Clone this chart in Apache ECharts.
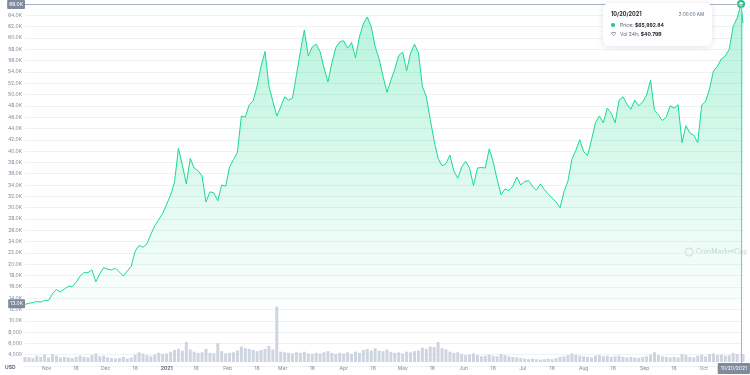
<!DOCTYPE html>
<html lang="en">
<head>
<meta charset="UTF-8">
<title>BTC price</title>
<script src="https://cdn.jsdelivr.net/npm/echarts@6/dist/echarts.min.js"></script>
<style>
html,body{margin:0;padding:0;background:#fff}
#chartBox{width:750px;height:375px}
</style>
</head>
<body>
<div id="chartBox"></div>
<script>
// one category per day, 2020-10-21 .. 2021-10-21
const startYear = 2020, startMonth = 9, startDay = 21;
const dayCount = 366;
const monthNames = ['Jan','Feb','Mar','Apr','May','Jun','Jul','Aug','Sep','Oct','Nov','Dec'];

// price, sampled every 2 days (last value is the final day)
const price = [
  12900,13100,13200,13400,13300,13600,13600,14800,15500,15100,
  15600,16100,16000,16800,17900,18500,18500,19000,16900,18300,
  19400,19100,19000,19300,18600,17900,18800,19600,22300,23300,
  23000,23600,25300,26800,27900,29000,30600,32200,34500,40500,
  37500,34200,38700,37000,36500,35600,31000,32800,32600,31200,
  34000,33800,37200,38500,39800,46200,46000,48200,48900,51500,
  55000,57600,51500,48800,46200,47800,49600,49000,49400,53500,
  57600,61400,56800,58400,58900,57600,54700,52200,55600,58300,
  59300,59500,58200,59200,56500,60200,62500,63700,62000,58500,
  56300,53200,50400,52500,54500,56900,57500,54200,57300,58900,
  57400,51500,49600,45600,41800,38700,37400,37800,39300,36500,
  35200,37200,38200,37000,33900,37000,37100,37000,40400,38100,
  35000,32300,33300,33000,33800,35400,34000,34600,34800,33800,
  33100,34200,33200,32400,31700,31000,30000,32800,34700,38500,
  40100,42000,39900,39200,42000,45000,46200,45000,47600,46700,
  45000,49000,49600,48300,47400,49000,48000,48700,49900,52500,
  47200,46400,45400,46000,48000,47600,48200,41500,44500,43200,
  42800,41500,48100,48800,51000,54200,55000,56300,56800,58000,
  62000,63500,65992.84,62600
];

// volume bars, same sampling, read against the left scale
const volume = [
  3900,3800,3700,4100,3900,4300,3800,4400,4100,3800,
  3900,3800,3700,3900,4100,3900,3800,4200,4500,4000,
  4100,3800,3700,3600,3700,3900,3600,3800,4300,4700,
  4500,4200,4000,4300,4600,4400,4500,4800,5100,5300,
  5000,6500,5200,4800,4600,4700,5300,4600,4500,6300,
  4900,4500,4600,4700,5000,5700,5400,5300,5100,4900,
  5100,5300,5800,5200,12700,4800,4700,4600,4500,4700,
  4600,4800,4500,4400,4600,4500,4700,4900,4600,4400,
  4600,4500,4700,4400,4800,4600,5100,5300,5000,5400,
  5000,4900,5200,4800,4600,4700,4500,4800,4700,4900,
  5000,5500,5300,5700,5600,6500,5400,5200,4800,4600,
  4700,4400,4200,4300,4500,4200,4000,4100,4300,4100,
  4000,4400,4200,4000,3900,3800,3700,3600,3500,3600,
  3500,3400,3500,3600,3500,3700,3900,4000,4200,4500,
  4300,4100,4000,3900,3800,4100,4200,4000,4100,3900,
  4000,4100,3900,3800,3900,3800,3700,3900,4000,4300,
  4700,4200,4000,3900,3800,3900,3800,4400,4200,3900,
  3800,4100,4300,4000,4400,4500,4200,4300,4100,4200,
  4600,4400,4500,4400
];

const hoverIndex = 182;          // 10/20/2021 sample
const hoverTime = '2:00:00 AM';
const hoverVolText = '$40.79B';
const markedLow = 13000;         // highlighted label on the left

const days = [];
for (let d = 0; d < dayCount; d++) {
    let t = new Date(Date.UTC(startYear, startMonth, startDay + d));
    days.push(t.toISOString().slice(0, 10));
}
const sampleDay = i => days[Math.min(i * 2, dayCount - 1)];
const priceData = price.map((v, i) => [sampleDay(i), v]);
const volumeData = volume.map((v, i) => [sampleDay(i), v]);

function usDate(val) {
    let p = val.split('-');
    return p[1] + '/' + p[2] + '/' + p[0];
}
function kLabel(v) {
    return (v / 1000).toFixed(1) + 'K';
}
// left scale: "12.0K" style above 10k, "8,000" style below
function scaleLabel(v) {
    if (v < 4000) return '';
    return v >= 10000 ? kLabel(v) : v.toLocaleString('en-US');
}

const labelColor = '#808a9d';
const boxColor = '#808a9d';
const fontFam = "Inter, 'Noto Sans', sans-serif";
const pointerLine = {color: '#a6b0c3', width: 1, type: 'solid'};

let chartObj = echarts.init(document.getElementById('chartBox'));
let option = {
    animation: false,
    textStyle: {fontFamily: fontFam},
    grid: [
        {left: 25, right: 7, top: 4, height: 362},
        {left: 25, right: 7, top: 306, height: 56}
    ],
    axisPointer: {link: [{xAxisIndex: 'all'}]},
    tooltip: {
        trigger: 'axis',
        alwaysShowContent: true,
        position: [603, 3],
        backgroundColor: '#fff',
        borderWidth: 0,
        padding: [7, 8],
        extraCssText: 'box-shadow:0 1px 6px rgba(88,102,126,0.18);border-radius:6px;width:93px;',
        axisPointer: {type: 'line', lineStyle: pointerLine},
        formatter: function (params) {
            let p = params.find(item => item.seriesIndex === 0);
            let date = usDate(p.value[0]);
            let val = '$' + p.value[1].toLocaleString('en-US', {minimumFractionDigits: 2, maximumFractionDigits: 2});
            let f = 'font-family:' + fontFam + ';font-size:5px;line-height:9px;color:#58667e;';
            return '<div style="' + f + '">' +
                '<div style="display:flex;justify-content:space-between;margin-bottom:2px">' +
                '<b style="color:#222531;font-size:5.5px">' + date + '</b><span style="font-size:4.5px">' + hoverTime + '</span></div>' +
                '<div><span style="display:inline-block;width:4px;height:4px;border-radius:2px;background:#16c784;margin-right:5px"></span>' +
                'Price: <b style="color:#222531">' + val + '</b></div>' +
                '<div><span style="display:inline-block;width:4px;margin-right:5px;font-size:5px">&#9825;</span>' +
                'Vol 24h: <b style="color:#222531">' + hoverVolText + '</b></div>' +
                '</div>';
        }
    },
    xAxis: [
        {
            type: 'category', gridIndex: 0, data: days, boundaryGap: false,
            axisLine: {show: false}, axisTick: {show: false}, axisLabel: {show: false},
            axisPointer: {show: true, lineStyle: pointerLine, label: {show: false}}
        },
        {
            type: 'category', gridIndex: 1, data: days, boundaryGap: false,
            axisLine: {show: false}, axisTick: {show: false},
            axisLabel: {
                color: labelColor, fontSize: 5, margin: 4,
                interval: (idx, val) => val.endsWith('-01') || val.endsWith('-16'),
                formatter: function (val) {
                    let p = val.split('-');
                    if (p[2] === '16') return '16';
                    if (p[1] === '01') return '{y|' + p[0] + '}';
                    return monthNames[+p[1] - 1];
                },
                rich: {y: {fontSize: 5, fontWeight: 'bold', color: '#58667e'}}
            },
            axisPointer: {
                show: true, lineStyle: pointerLine,
                label: {
                    show: true, formatter: o => usDate(o.value), backgroundColor: boxColor,
                    color: '#fff', fontSize: 5, padding: [3, 3], borderRadius: 1, margin: 1
                }
            }
        }
    ],
    yAxis: [
        {
            type: 'value', gridIndex: 0, min: 2000, max: 66000, interval: 2000,
            axisLabel: {color: labelColor, fontSize: 5, margin: 3, formatter: scaleLabel},
            splitLine: {lineStyle: {color: '#eff2f5', width: 1}},
            axisPointer: {
                show: true, lineStyle: pointerLine,
                label: {
                    show: true, formatter: o => kLabel(o.value), backgroundColor: boxColor,
                    color: '#fff', fontSize: 5, padding: [2, 2], borderRadius: 1, margin: 0
                }
            }
        },
        {
            type: 'value', gridIndex: 1, min: 3000, max: 12800, show: false,
            splitLine: {show: false},
            axisPointer: {show: false}
        }
    ],
    series: [
        {
            type: 'line', name: 'Price', xAxisIndex: 0, yAxisIndex: 0,
            data: priceData, showSymbol: false, symbolSize: 5,
            lineStyle: {color: '#16c784', width: 1},
            itemStyle: {color: '#16c784', borderColor: '#fff', borderWidth: 1},
            areaStyle: {
                origin: 12000,
                color: new echarts.graphic.LinearGradient(0, 0, 0, 1, [
                    {offset: 0, color: 'rgba(22,199,132,0.45)'},
                    {offset: 1, color: 'rgba(22,199,132,0.02)'}
                ])
            },
            markLine: {
                silent: true, symbol: 'none',
                lineStyle: {color: 'rgba(0,0,0,0)', width: 0},
                label: {
                    show: true, position: 'start', formatter: o => kLabel(o.value), backgroundColor: boxColor,
                    color: '#fff', fontSize: 5, padding: [2, 2], borderRadius: 1, distance: 0
                },
                data: [{yAxis: markedLow}]
            }
        },
        {
            type: 'bar', name: 'Volume', xAxisIndex: 1, yAxisIndex: 1,
            data: volumeData, barWidth: 3,
            itemStyle: {color: '#cfd5e0'}
        }
    ],
    graphic: [
        {
            type: 'text', left: 5, top: 365,
            style: {text: 'USD', fill: '#58667e', font: 'bold 5px ' + fontFam}
        },
        {
            type: 'circle', shape: {cx: 689, cy: 252, r: 4},
            style: {fill: 'none', stroke: '#cdd2da', lineWidth: 0.8}
        },
        {
            type: 'text', left: 696, top: 248,
            style: {text: 'CoinMarketCap', fill: '#cdd2da', font: '7px ' + fontFam}
        }
    ]
};
chartObj.setOption(option);
chartObj.dispatchAction({type: 'showTip', seriesIndex: 0, dataIndex: hoverIndex});
</script>
</body>
</html>
